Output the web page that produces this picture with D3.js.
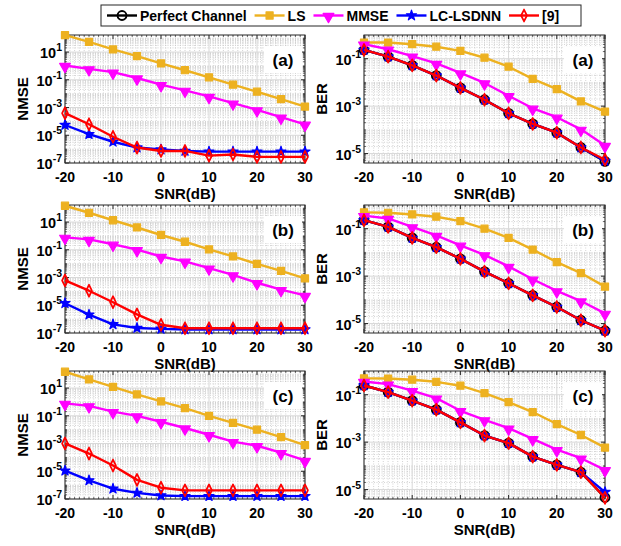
<!DOCTYPE html>
<html>
<head>
<meta charset="utf-8">
<script src="https://cdn.jsdelivr.net/npm/d3@7"></script>
<style>
body { margin: 0; background: #fff; }
text { font-family: "Liberation Sans", Arial, Helvetica, sans-serif; font-weight: bold; fill: #000; }
</style>
</head>
<body>
<svg id="chart" width="621" height="546"></svg>
<script>
var snr = [-20, -15, -10, -5, 0, 5, 10, 15, 20, 25, 30];
var xTicks = [-20, -10, 0, 10, 20, 30];
var seriesNames = ["Perfect Channel", "LS", "MMSE", "LC-LSDNN", "[9]"];
var seriesColors = ["#000000", "#EDB120", "#FF00FF", "#0000FF", "#FF0000"];

// NMSE panels
var nmseTicks = [1e-7, 1e-5, 1e-3, 1e-1, 1e1];
var nmseLS_a = [165, 53.7, 15.5, 5.13, 1.51, 0.49, 0.151, 0.0447, 0.0138, 0.00407, 0.00117];
var nmseMMSE_a = [1.07, 0.617, 0.355, 0.135, 0.0447, 0.0174, 0.0063, 0.00209, 6.8e-4, 2.0e-4, 6.2e-5];
var nmseLC_a = [5.5e-5, 1.2e-5, 3.4e-6, 1.3e-6, 9.3e-7, 7.4e-7, 6.6e-7, 6.6e-7, 6.6e-7, 6.6e-7, 6.6e-7];
var nmseRef9_a = [3.9e-4, 6.2e-5, 7.8e-6, 1.3e-6, 7.4e-7, 7.4e-7, 3.4e-7, 4.1e-7, 2.75e-7, 2.75e-7, 2.75e-7];

var nmseLS_b = [150, 46.8, 13.5, 4.07, 1.17, 0.38, 0.107, 0.0331, 0.00955, 0.00302, 8.7e-4];
var nmseMMSE_b = [0.79, 0.56, 0.25, 0.102, 0.033, 0.0148, 0.0048, 0.00155, 4.2e-4, 1.35e-4, 5.1e-5];
var nmseLC_b = [1.4e-5, 2.1e-6, 4.2e-7, 2.3e-7, 2.0e-7, 1.8e-7, 1.8e-7, 1.8e-7, 1.8e-7, 1.8e-7, 1.8e-7];
var nmseRef9_b = [6.2e-4, 1.12e-4, 1.66e-5, 2.2e-6, 3.9e-7, 2.2e-7, 2.2e-7, 2.2e-7, 2.2e-7, 2.2e-7, 2.2e-7];

var nmseLS_c = [150, 41.7, 12.0, 3.47, 1.10, 0.355, 0.098, 0.031, 0.01, 0.0029, 7.8e-4];
var nmseMMSE_c = [0.79, 0.52, 0.2, 0.098, 0.037, 0.0132, 0.0043, 0.00138, 6.9e-4, 2.2e-4, 6.0e-5];
var nmseLC_c = [1.1e-5, 2.2e-6, 5.5e-7, 2.75e-7, 1.8e-7, 1.6e-7, 1.6e-7, 1.6e-7, 1.6e-7, 1.6e-7, 1.6e-7];
var nmseRef9_c = [1.02e-3, 1.9e-4, 2.6e-5, 2.4e-6, 6.5e-7, 4.2e-7, 4.2e-7, 4.2e-7, 4.2e-7, 4.2e-7, 4.2e-7];

// BER panels
var berTicks = [1e-5, 1e-3, 1e-1];
var berPerfect_a = [0.234, 0.123, 0.0525, 0.0195, 0.0059, 0.00186, 5.0e-4, 1.78e-4, 7.6e-5, 1.8e-5, 4.7e-6];
var berLS_a = [0.48, 0.48, 0.41, 0.32, 0.214, 0.11, 0.046, 0.0141, 0.0052, 0.00158, 5.9e-4];
var berMMSE_a = [0.41, 0.25, 0.129, 0.063, 0.025, 0.0095, 0.00275, 8.1e-4, 3.4e-4, 1.05e-4, 2.2e-5];
var berLC_a = [0.234, 0.123, 0.0525, 0.0195, 0.0059, 0.00186, 5.0e-4, 1.78e-4, 7.6e-5, 1.8e-5, 4.9e-6];
var berRef9_a = [0.234, 0.123, 0.0525, 0.0195, 0.0059, 0.00186, 5.0e-4, 1.78e-4, 7.6e-5, 1.8e-5, 5.5e-6];

var berPerfect_b = [0.229, 0.12, 0.041, 0.0166, 0.0054, 0.00155, 5.0e-4, 1.55e-4, 5.0e-5, 1.38e-5, 5.0e-6];
var berLS_b = [0.49, 0.47, 0.40, 0.32, 0.21, 0.10, 0.041, 0.0132, 0.0039, 0.00135, 3.6e-4];
var berMMSE_b = [0.355, 0.27, 0.12, 0.052, 0.02, 0.0079, 0.00257, 7.4e-4, 2.4e-4, 8.9e-5, 2.7e-5];
var berLC_b = [0.229, 0.12, 0.041, 0.0166, 0.0054, 0.00155, 5.0e-4, 1.55e-4, 5.0e-5, 1.38e-5, 5.0e-6];
var berRef9_b = [0.229, 0.12, 0.041, 0.0166, 0.0054, 0.00155, 5.0e-4, 1.55e-4, 5.0e-5, 1.38e-5, 5.0e-6];

var berPerfect_c = [0.245, 0.129, 0.056, 0.0234, 0.0068, 0.0019, 9.1e-4, 2.45e-4, 1.1e-4, 5.4e-5, 4.6e-6];
var berLS_c = [0.49, 0.48, 0.43, 0.35, 0.24, 0.117, 0.049, 0.0186, 0.0058, 0.002, 5.9e-4];
var berMMSE_c = [0.36, 0.28, 0.148, 0.072, 0.021, 0.0087, 0.0039, 0.00138, 4.8e-4, 2.1e-4, 6.8e-5];
var berLC_c = [0.245, 0.129, 0.056, 0.0234, 0.0068, 0.0019, 9.1e-4, 2.45e-4, 1.1e-4, 5.4e-5, 7.8e-6];
var berRef9_c = [0.245, 0.129, 0.056, 0.0234, 0.0068, 0.0019, 9.1e-4, 2.45e-4, 1.1e-4, 5.4e-5, 4.5e-6];

var svg = d3.select("#chart");

function markerPath(i) {
    if (i == 0) return d3.symbol().type(d3.symbolCircle).size(62)();
    if (i == 1) return d3.symbol().type(d3.symbolSquare).size(50)();
    if (i == 2) return d3.symbol().type(d3.symbolTriangle).size(50)();
    if (i == 3) return d3.symbol().type(d3.symbolStar).size(32)();
    return d3.symbol().type(d3.symbolDiamond).size(36)();
}

function drawMarker(g, i, x, y) {
    var m = g.append("path")
        .attr("d", markerPath(i))
        .attr("stroke", seriesColors[i])
        .attr("stroke-width", i == 4 || i == 0 ? 1.9 : 1.2)
        .attr("stroke-linejoin", "round");
    if (i == 2) m.attr("transform", "translate(" + x + "," + (y + 1) + ") rotate(180)");
    else if (i == 4) m.attr("transform", "translate(" + x + "," + y + ") scale(0.9,1.05)");
    else m.attr("transform", "translate(" + x + "," + y + ")");
    if (i == 0 || i == 4) m.attr("fill", "none");
    else m.attr("fill", seriesColors[i]);
}

function drawPanel(x0, y0, w, h, yDomain, yTicks, yLabel, labelX, tag, curves) {
    var g = svg.append("g");
    var x = d3.scaleLinear().domain([-20, 30]).range([x0, x0 + w]);
    var y = d3.scaleLog().domain(yDomain).range([y0 + h, y0]);

    // minor grid
    var xMinor = d3.range(-20, 31, 1).filter(function (v) { return v % 10 != 0; });
    var yMinor = [];
    var lo = Math.floor(Math.log10(yDomain[0])), hi = Math.ceil(Math.log10(yDomain[1]));
    for (var k = lo; k <= hi; k++) {
        for (var m = 1; m <= 9; m++) {
            var v = m * Math.pow(10, k);
            if (v > yDomain[0] && v < yDomain[1] && yTicks.indexOf(v) < 0) yMinor.push(v);
        }
    }
    g.selectAll(".xmin").data(xMinor).enter().append("line")
        .attr("x1", function (d) { return x(d); }).attr("x2", function (d) { return x(d); })
        .attr("y1", y0).attr("y2", y0 + h)
        .attr("stroke", "#c8c8c8").attr("stroke-width", 0.8).attr("stroke-dasharray", "1,1.5");
    g.selectAll(".ymin").data(yMinor).enter().append("line")
        .attr("x1", x0).attr("x2", x0 + w)
        .attr("y1", function (d) { return y(d); }).attr("y2", function (d) { return y(d); })
        .attr("stroke", "#c8c8c8").attr("stroke-width", 0.8).attr("stroke-dasharray", "1,1.5");

    // major grid
    g.selectAll(".xmaj").data(xTicks).enter().append("line")
        .attr("x1", function (d) { return x(d); }).attr("x2", function (d) { return x(d); })
        .attr("y1", y0).attr("y2", y0 + h)
        .attr("stroke", "#d8d8d8").attr("stroke-width", 1);
    g.selectAll(".ymaj").data(yTicks).enter().append("line")
        .attr("x1", x0).attr("x2", x0 + w)
        .attr("y1", function (d) { return y(d); }).attr("y2", function (d) { return y(d); })
        .attr("stroke", "#d8d8d8").attr("stroke-width", 1);

    // tick marks on all four sides
    xTicks.forEach(function (t) {
        g.append("line").attr("x1", x(t)).attr("x2", x(t)).attr("y1", y0 + h).attr("y2", y0 + h - 4).attr("stroke", "#262626");
        g.append("line").attr("x1", x(t)).attr("x2", x(t)).attr("y1", y0).attr("y2", y0 + 4).attr("stroke", "#262626");
    });
    xMinor.forEach(function (t) {
        g.append("line").attr("x1", x(t)).attr("x2", x(t)).attr("y1", y0 + h).attr("y2", y0 + h - 2).attr("stroke", "#262626").attr("stroke-width", 0.7);
        g.append("line").attr("x1", x(t)).attr("x2", x(t)).attr("y1", y0).attr("y2", y0 + 2).attr("stroke", "#262626").attr("stroke-width", 0.7);
    });
    yTicks.forEach(function (t) {
        g.append("line").attr("x1", x0).attr("x2", x0 + 4).attr("y1", y(t)).attr("y2", y(t)).attr("stroke", "#262626");
        g.append("line").attr("x1", x0 + w).attr("x2", x0 + w - 4).attr("y1", y(t)).attr("y2", y(t)).attr("stroke", "#262626");
    });
    yMinor.forEach(function (t) {
        g.append("line").attr("x1", x0).attr("x2", x0 + 2).attr("y1", y(t)).attr("y2", y(t)).attr("stroke", "#262626").attr("stroke-width", 0.7);
        g.append("line").attr("x1", x0 + w).attr("x2", x0 + w - 2).attr("y1", y(t)).attr("y2", y(t)).attr("stroke", "#262626").attr("stroke-width", 0.7);
    });

    // box
    g.append("rect").attr("x", x0).attr("y", y0).attr("width", w).attr("height", h)
        .attr("fill", "none").attr("stroke", "#262626").attr("stroke-width", 1);

    // tick labels
    xTicks.forEach(function (t) {
        g.append("text").attr("x", x(t)).attr("y", y0 + h + 19)
            .attr("text-anchor", "middle").attr("font-size", 14).text(t);
    });
    yTicks.forEach(function (t) {
        var e = Math.round(Math.log10(t));
        var tx = g.append("text").attr("x", x0 - 3).attr("y", y(t) + 6)
            .attr("text-anchor", "end").attr("font-size", 14.5);
        tx.append("tspan").text("10");
        tx.append("tspan").attr("font-size", 10.5).attr("dy", -7).text(e);
    });

    // axis labels
    g.append("text").attr("x", x0 + w / 2).attr("y", y0 + h + 36)
        .attr("text-anchor", "middle").attr("font-size", 15).text("SNR(dB)");
    g.append("text").attr("transform", "translate(" + labelX + "," + (y0 + h / 2) + ") rotate(-90)")
        .attr("text-anchor", "middle").attr("font-size", 15).text(yLabel);

    // curves
    var line = d3.line()
        .x(function (d, j) { return x(snr[j]); })
        .y(function (d) { return y(d); });
    curves.forEach(function (c) {
        g.append("path").datum(c.values).attr("d", line)
            .attr("fill", "none").attr("stroke", seriesColors[c.s]).attr("stroke-width", 2.4)
            .attr("stroke-linejoin", "round");
        c.values.forEach(function (v, j) {
            drawMarker(g, c.s, x(snr[j]), y(v));
        });
    });

    // panel tag
    g.append("rect").attr("x", x0 + w - 41).attr("y", y0 + 12).attr("width", 38).attr("height", 26).attr("fill", "#fff");
    g.append("text").attr("x", x0 + w - 22).attr("y", y0 + 31)
        .attr("text-anchor", "middle").attr("font-size", 17).text(tag);
}

var leftX = 65, rightX = 364, panelW = 241, panelH = 128;
var rowTops = [35, 205, 371];
var nmseDomain = [1e-7, 170];
var berDomain = [4e-6, 1];

drawPanel(leftX, rowTops[0], panelW - 1, panelH, nmseDomain, nmseTicks, "NMSE", 28, "(a)", [
    { s: 1, values: nmseLS_a }, { s: 2, values: nmseMMSE_a }, { s: 3, values: nmseLC_a }, { s: 4, values: nmseRef9_a }]);
drawPanel(leftX, rowTops[1], panelW - 1, panelH, nmseDomain, nmseTicks, "NMSE", 28, "(b)", [
    { s: 1, values: nmseLS_b }, { s: 2, values: nmseMMSE_b }, { s: 3, values: nmseLC_b }, { s: 4, values: nmseRef9_b }]);
drawPanel(leftX, rowTops[2], panelW - 1, panelH, nmseDomain, nmseTicks, "NMSE", 28, "(c)", [
    { s: 1, values: nmseLS_c }, { s: 2, values: nmseMMSE_c }, { s: 3, values: nmseLC_c }, { s: 4, values: nmseRef9_c }]);

drawPanel(rightX, rowTops[0], panelW, panelH, berDomain, berTicks, "BER", 327, "(a)", [
    { s: 0, values: berPerfect_a }, { s: 1, values: berLS_a }, { s: 2, values: berMMSE_a }, { s: 3, values: berLC_a }, { s: 4, values: berRef9_a }]);
drawPanel(rightX, rowTops[1], panelW, panelH, berDomain, berTicks, "BER", 327, "(b)", [
    { s: 0, values: berPerfect_b }, { s: 1, values: berLS_b }, { s: 2, values: berMMSE_b }, { s: 3, values: berLC_b }, { s: 4, values: berRef9_b }]);
drawPanel(rightX, rowTops[2], panelW, panelH, berDomain, berTicks, "BER", 327, "(c)", [
    { s: 0, values: berPerfect_c }, { s: 1, values: berLS_c }, { s: 2, values: berMMSE_c }, { s: 3, values: berLC_c }, { s: 4, values: berRef9_c }]);

// legend
var leg = svg.append("g");
leg.append("rect").attr("x", 101).attr("y", 5).attr("width", 480).attr("height", 21)
    .attr("fill", "#fff").attr("stroke", "#262626").attr("stroke-width", 1);
var lx = 107;
seriesNames.forEach(function (name, i) {
    leg.append("line").attr("x1", lx).attr("x2", lx + 30).attr("y1", 15.5).attr("y2", 15.5)
        .attr("stroke", seriesColors[i]).attr("stroke-width", 2.4);
    drawMarker(leg, i, lx + 15, 15.5);
    var t = leg.append("text").attr("x", lx + 33).attr("y", 20.5).attr("font-size", 14).text(name);
    lx = lx + 33 + t.node().getComputedTextLength() + 8;
});
</script>
</body>
</html>
